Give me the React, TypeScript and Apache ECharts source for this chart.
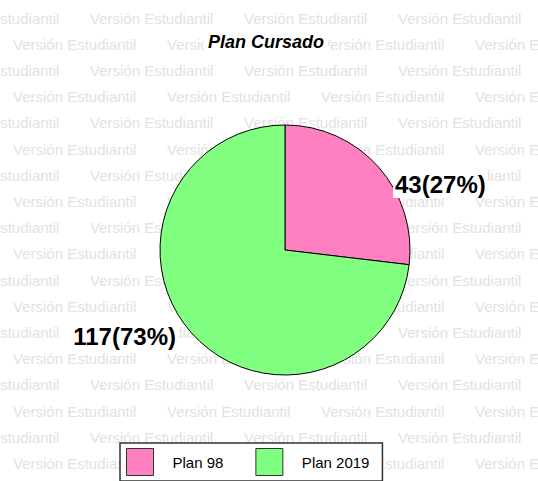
import React, { useEffect, useRef } from "react";
import * as echarts from "echarts";

// ---- data ----
const categories: string[] = ["Plan 98", "Plan 2019"];
const counts: number[] = [43, 117];
const sliceColors: string[] = ["#FF80C0", "#80FF80"];
const titleText = "Plan Cursado";
const watermarkText = "Versión Estudiantil";

// label placement per slice (layout only)
const labelPlacement = [
  { x: 393, y: 184, align: "left" },
  { x: 178, y: 336, align: "right" },
];

function buildWatermark() {
  const els: any[] = [];
  const rows = 18;
  for (let k = 0; k < rows; k++) {
    const y = 18 + 26.2 * k;
    const startX = k % 2 === 0 ? -64 : 13;
    for (let j = 0; j < 5; j++) {
      const x = startX + 154 * j;
      if (x > 540) continue;
      els.push({
        type: "text",
        x,
        y,
        silent: true,
        z: 0,
        style: {
          text: watermarkText,
          fill: "#e2e2e2",
          font: "15px 'Liberation Sans', Arial, sans-serif",
          verticalAlign: "middle",
          align: "left",
        },
      });
    }
  }
  return els;
}

export default function App() {
  const ref = useRef<HTMLDivElement>(null);
  useEffect(() => {
    document.body.style.margin = "0";
    if (!ref.current) return;
    const chart = echarts.init(ref.current, undefined, { renderer: "svg" });
    const option: any = {
      animation: false,
      backgroundColor: "#ffffff",
      graphic: { elements: buildWatermark() },
      title: {
        text: titleText,
        left: 204,
        top: 32,
        padding: [1, 4],
        backgroundColor: "#ffffff",
        z: 10,
        textStyle: {
          fontFamily: "'Liberation Sans', Arial, sans-serif",
          fontSize: 18,
          fontWeight: "bold",
          fontStyle: "italic",
          color: "#000",
        },
      },
      legend: {
        data: categories,
        orient: "horizontal",
        left: 120,
        top: 443,
        padding: [5, 13, 5, 6],
        itemWidth: 27,
        itemHeight: 27,
        itemGap: 32,
        icon: "rect",
        backgroundColor: "#ffffff",
        borderColor: "#333",
        borderWidth: 1.5,
        borderRadius: 0,
        selectedMode: false,
        z: 10,
        itemStyle: { borderColor: "#333", borderWidth: 1 },
        textStyle: {
          fontFamily: "'Liberation Sans', Arial, sans-serif",
          fontSize: 15,
          color: "#000",
          padding: [0, 0, 0, 14],
        },
      },
      series: [
        {
          type: "pie",
          center: [285, 250],
          radius: 125,
          startAngle: 90,
          clockwise: true,
          percentPrecision: 0,
          z: 5,
          emphasis: { disabled: true },
          itemStyle: { borderColor: "#000", borderWidth: 1 },
          label: {
            show: true,
            position: "outside",
            formatter: "{c}({d}%)",
            fontFamily: "'Liberation Sans', Arial, sans-serif",
            fontSize: 24,
            fontWeight: "bold",
            color: "#000",
            backgroundColor: "#ffffff",
            padding: [2, 2],
          },
          labelLine: { show: false },
          labelLayout: (params: any) => {
            const p = labelPlacement[params.dataIndex];
            return { x: p.x, y: p.y, align: p.align, verticalAlign: "middle" };
          },
          data: categories.map((name, i) => ({
            name,
            value: counts[i],
            itemStyle: { color: sliceColors[i] },
          })),
        },
      ],
    };
    chart.setOption(option);
    return () => chart.dispose();
  }, []);
  return <div ref={ref} style={{ width: 538, height: 481 }} />;
}
